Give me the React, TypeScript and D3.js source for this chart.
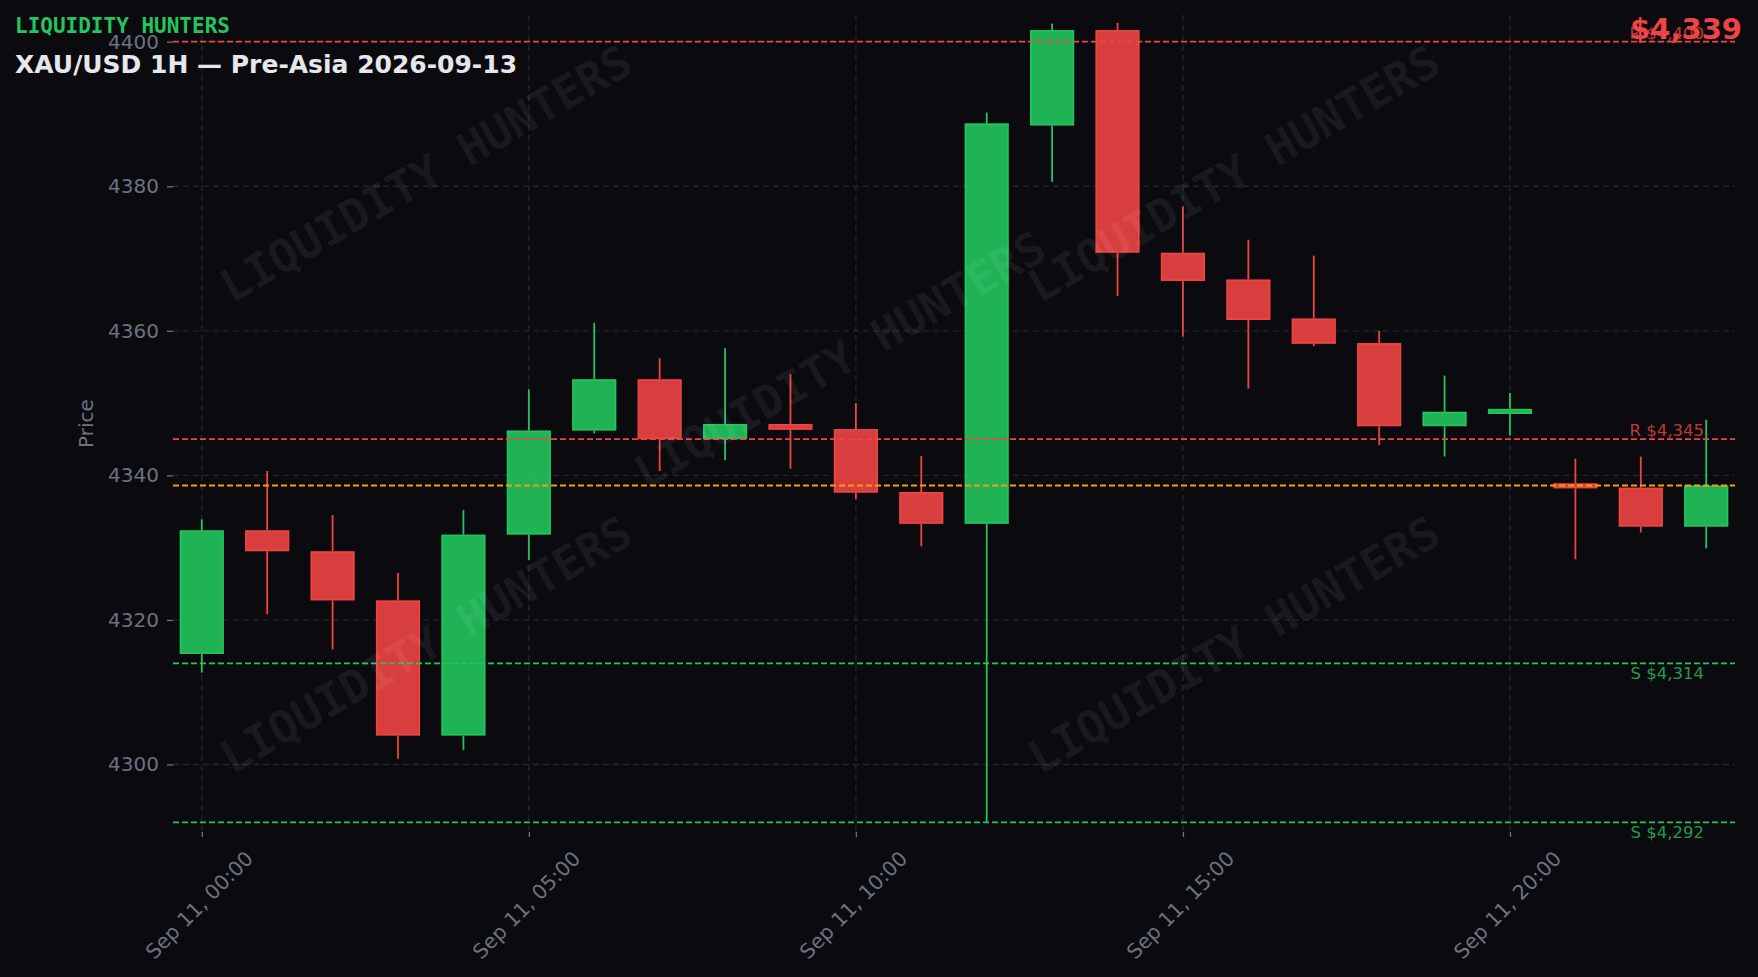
import React, { useEffect, useRef } from 'react'
import * as d3 from 'd3'

// hourly candles, Sep 11 2026 (UTC)
const times = [
  '2026-09-11T00:00:00Z', '2026-09-11T01:00:00Z', '2026-09-11T02:00:00Z', '2026-09-11T03:00:00Z',
  '2026-09-11T04:00:00Z', '2026-09-11T05:00:00Z', '2026-09-11T06:00:00Z', '2026-09-11T07:00:00Z',
  '2026-09-11T08:00:00Z', '2026-09-11T09:00:00Z', '2026-09-11T10:00:00Z', '2026-09-11T11:00:00Z',
  '2026-09-11T12:00:00Z', '2026-09-11T13:00:00Z', '2026-09-11T14:00:00Z', '2026-09-11T15:00:00Z',
  '2026-09-11T16:00:00Z', '2026-09-11T17:00:00Z', '2026-09-11T18:00:00Z', '2026-09-11T19:00:00Z',
  '2026-09-11T20:00:00Z', '2026-09-11T21:00:00Z', '2026-09-11T22:00:00Z', '2026-09-11T23:00:00Z',
]
const opens = [4315.3, 4332.4, 4329.5, 4322.7, 4304.0, 4331.8, 4346.2, 4353.3, 4345.0, 4347.1, 4346.4, 4337.7,
  4333.3, 4388.4, 4401.6, 4370.8, 4367.1, 4361.7, 4358.3, 4346.8, 4348.5, 4338.9, 4338.3, 4332.9]
const highs = [4333.9, 4340.6, 4334.5, 4326.5, 4335.2, 4351.9, 4361.1, 4356.2, 4357.6, 4354.0, 4350.0, 4342.7,
  4390.2, 4402.5, 4402.6, 4377.2, 4372.6, 4370.4, 4360.0, 4353.8, 4351.4, 4342.3, 4342.6, 4347.7]
const lows = [4312.7, 4320.8, 4315.9, 4300.8, 4302.0, 4328.3, 4345.8, 4340.6, 4342.1, 4340.9, 4336.7, 4330.2,
  4292.0, 4380.6, 4364.8, 4359.2, 4352.0, 4357.9, 4344.2, 4342.6, 4345.5, 4328.4, 4332.1, 4329.9]
const closes = [4332.4, 4329.5, 4322.7, 4304.0, 4331.8, 4346.2, 4353.3, 4345.0, 4347.1, 4346.3, 4337.6, 4333.3,
  4388.7, 4401.6, 4370.8, 4366.9, 4361.5, 4358.2, 4346.8, 4348.8, 4349.2, 4338.2, 4332.9, 4338.6]

const levelKinds = ['R', 'R', 'S', 'S']
const levelValues = [4400, 4345, 4314, 4292]
const lastPrice = 4338.6

const yTickValues = [4300, 4320, 4340, 4360, 4380, 4400]
const xTickHours = [0, 5, 10, 15, 20]

const W = 1758
const H = 977
const GREEN = '#22c55e'
const RED = '#ef4444'
const ORANGE = '#f59e0b'
const MUTED = '#6b7280'
const GRID = '#23252e'

export default function App() {
  const ref = useRef<SVGSVGElement>(null)

  useEffect(() => {
    document.body.style.margin = '0'
    document.body.style.background = '#0b0b0f'
    const svg = d3.select(ref.current)
    svg.selectAll('*').remove()

    const left = 173, right = 1735, top = 15, bottom = 832
    const hour = 3600 * 1000
    const dates = times.map(t => new Date(t))

    const x = d3.scaleUtc()
      .domain([new Date(+dates[0] - 0.44 * hour), new Date(+dates[dates.length - 1] + 0.44 * hour)])
      .range([left, right])
    const y = d3.scaleLinear().domain([4290.66, 4403.69]).range([bottom, top])
    const bodyW = x(new Date(+dates[0] + 0.65 * hour)) - x(dates[0])

    svg.append('rect').attr('width', W).attr('height', H).attr('fill', '#0b0b0f')

    // grid
    const grid = svg.append('g')
    grid.selectAll('.hg').data(yTickValues).enter().append('line')
      .attr('x1', left).attr('x2', right)
      .attr('y1', d => y(d)).attr('y2', d => y(d))
      .attr('stroke', GRID).attr('stroke-width', 1.3).attr('stroke-dasharray', '6 4')
    const xTicks = xTickHours.map(i => dates[i])
    grid.selectAll('.vg').data(xTicks).enter().append('line')
      .attr('x1', d => x(d)).attr('x2', d => x(d))
      .attr('y1', top).attr('y2', bottom)
      .attr('stroke', GRID).attr('stroke-width', 1.3).attr('stroke-dasharray', '6 4')

    // axes
    const yAxis = svg.append('g').attr('transform', `translate(${left},0)`)
      .call(d3.axisLeft(y).tickValues(yTickValues).tickSize(6).tickPadding(8).tickFormat(d3.format('d')))
    yAxis.select('.domain').remove()
    yAxis.selectAll('line').attr('stroke', MUTED).attr('stroke-width', 1.3)
    yAxis.selectAll('text').attr('fill', MUTED).style('font-family', 'DejaVu Sans').style('font-size', '20px')

    const xAxis = svg.append('g').attr('transform', `translate(0,${bottom})`)
      .call(d3.axisBottom(x).tickValues(xTicks).tickSize(5).tickFormat(d => d3.utcFormat('%b %d, %H:%M')(d as Date)))
    xAxis.select('.domain').remove()
    xAxis.selectAll('line').attr('stroke', MUTED).attr('stroke-width', 1.3)
    xAxis.selectAll('text')
      .attr('y', null).attr('dy', '0.35em')
      .attr('text-anchor', 'middle')
      .attr('transform', 'translate(-3,73) rotate(-45)')
      .attr('fill', MUTED).style('font-family', 'DejaVu Sans').style('font-size', '20.3px')

    svg.append('text')
      .attr('transform', `translate(86,${(top + bottom) / 2}) rotate(-90)`)
      .attr('text-anchor', 'middle').attr('dominant-baseline', 'central')
      .attr('fill', MUTED).style('font-family', 'DejaVu Sans').style('font-size', '20px')
      .text('Price')

    // candles
    const idx = d3.range(dates.length)
    const col = (i: number) => (closes[i] >= opens[i] ? GREEN : RED)
    const candles = svg.append('g')
    candles.selectAll('.wick-hi').data(idx).enter().append('line')
      .attr('x1', i => x(dates[i])).attr('x2', i => x(dates[i]))
      .attr('y1', i => y(highs[i])).attr('y2', i => y(Math.max(opens[i], closes[i])))
      .attr('stroke', col).attr('stroke-width', 1.8)
    candles.selectAll('.wick-lo').data(idx).enter().append('line')
      .attr('x1', i => x(dates[i])).attr('x2', i => x(dates[i]))
      .attr('y1', i => y(Math.min(opens[i], closes[i]))).attr('y2', i => y(lows[i]))
      .attr('stroke', col).attr('stroke-width', 1.8)
    candles.selectAll('.body').data(idx).enter().append('rect')
      .attr('x', i => x(dates[i]) - bodyW / 2)
      .attr('width', bodyW)
      .attr('y', i => y(Math.max(opens[i], closes[i])) + 0.8)
      .attr('height', i => Math.max(1, Math.abs(y(opens[i]) - y(closes[i])) - 1.6))
      .attr('fill', col).attr('fill-opacity', 0.9)
      .attr('stroke', col).attr('stroke-width', 1.7)

    // support / resistance
    const fmt = d3.format(',.0f')
    const lv = svg.append('g')
    lv.selectAll('line').data(levelValues).enter().append('line')
      .attr('x1', left).attr('x2', right)
      .attr('y1', d => y(d)).attr('y2', d => y(d))
      .attr('stroke', (d, i) => (levelKinds[i] === 'R' ? RED : GREEN))
      .attr('stroke-width', 1.8).attr('stroke-dasharray', '6 3')
    lv.selectAll('text').data(levelValues).enter().append('text')
      .attr('x', 1704)
      .attr('y', (d, i) => (levelKinds[i] === 'R' ? y(d) - 3 : y(d) + 15.5))
      .attr('text-anchor', 'end')
      .attr('fill', (d, i) => (levelKinds[i] === 'R' ? RED : GREEN)).attr('fill-opacity', 0.8)
      .style('font-family', 'DejaVu Sans').style('font-size', '16.5px')
      .text((d, i) => `${levelKinds[i]} $${fmt(d)}`)

    svg.append('line')
      .attr('x1', left).attr('x2', right)
      .attr('y1', y(lastPrice)).attr('y2', y(lastPrice))
      .attr('stroke', ORANGE).attr('stroke-width', 1.8).attr('stroke-dasharray', '6 3')

    // watermark
    const marks: [number, number][] = [[426, 174], [1234, 174], [840, 360], [426, 645], [1234, 645]]
    svg.append('g').selectAll('text').data(marks).enter().append('text')
      .attr('transform', d => `translate(${d[0]},${d[1]}) rotate(-30)`)
      .attr('text-anchor', 'middle').attr('dominant-baseline', 'central')
      .attr('fill', '#ffffff').attr('fill-opacity', 0.065)
      .style('font-family', 'DejaVu Sans Mono').style('font-weight', 'bold').style('font-size', '45.5px')
      .text('LIQUIDITY HUNTERS')

    // header
    svg.append('text').attr('x', 15).attr('y', 33)
      .attr('fill', GREEN).style('font-family', 'DejaVu Sans Mono').style('font-weight', 'bold').style('font-size', '21px')
      .text('LIQUIDITY HUNTERS')
    svg.append('text').attr('x', 15).attr('y', 73)
      .attr('fill', '#e5e7eb').style('font-family', 'DejaVu Sans').style('font-weight', 'bold').style('font-size', '25px')
      .text('XAU/USD 1H — Pre-Asia 2026-09-13')
    svg.append('text').attr('x', 1742).attr('y', 39).attr('text-anchor', 'end')
      .attr('fill', RED).style('font-family', 'DejaVu Sans').style('font-weight', 'bold').style('font-size', '29px')
      .text(`$${fmt(lastPrice)}`)
  }, [])

  return <svg ref={ref} width={W} height={H} style={{ display: 'block' }} />
}
